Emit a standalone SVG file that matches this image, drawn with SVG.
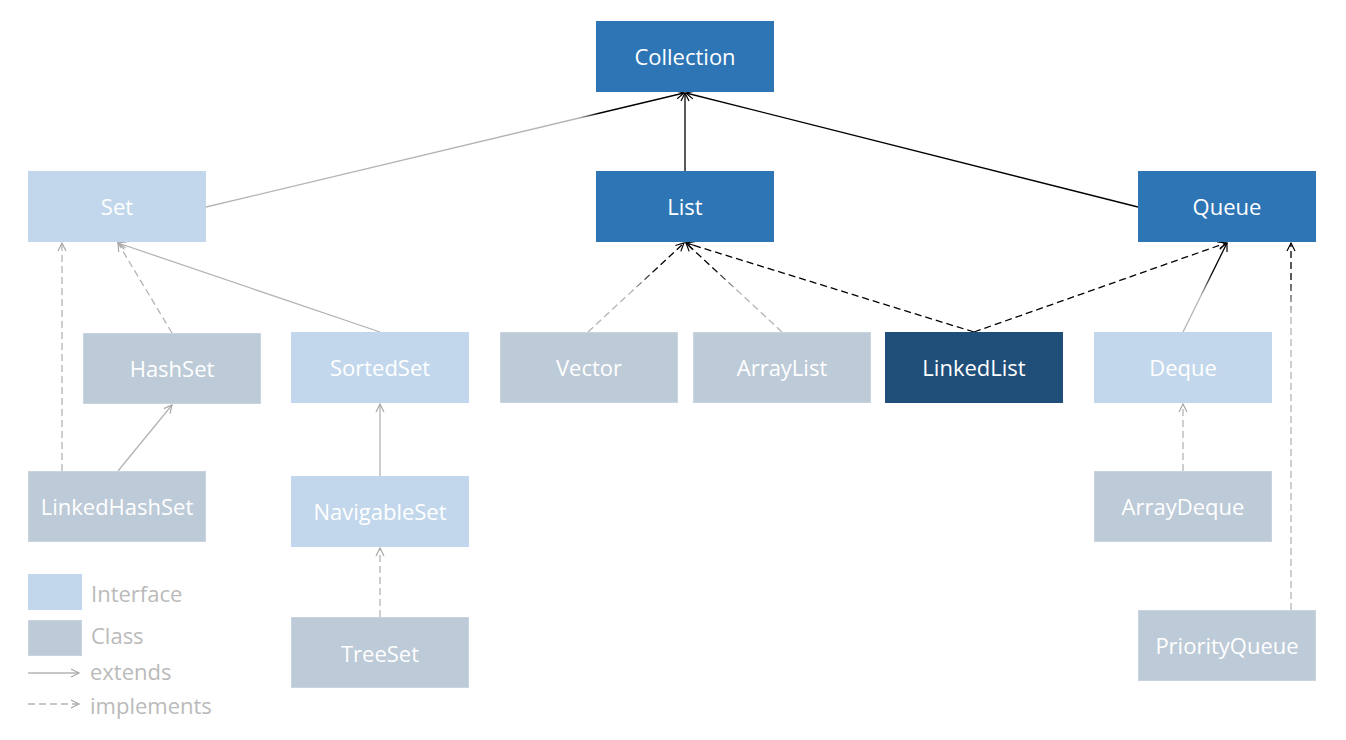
<svg xmlns="http://www.w3.org/2000/svg" width="1346" height="740" viewBox="0 0 1346 740">
<style>
.t{font-family:"Open Sans","Liberation Sans",sans-serif;font-size:22px;fill:#fff;text-anchor:middle;dominant-baseline:central}
.lg{font-family:"Open Sans","Liberation Sans",sans-serif;font-size:22px;fill:#BABABA}
.dk{fill:#2E75B6}
.if{fill:#C2D7EB}
.cl{fill:#BDCAD7;stroke:#C9D4DF;stroke-width:1}
.ll{fill:#1F4E79}
.c{fill:none;stroke-width:1.3}
.g{stroke:#B4B4B4}
.b{stroke:#000}
.d{stroke-dasharray:7,4}
</style>
<defs>
<marker id="ab" markerWidth="12" markerHeight="12" refX="9" refY="5" orient="auto" markerUnits="userSpaceOnUse"><path d="M1,1 L9,5 L1,9" fill="none" stroke="#000" stroke-width="1.2"/></marker>
<marker id="ag" markerWidth="12" markerHeight="12" refX="9" refY="5" orient="auto" markerUnits="userSpaceOnUse"><path d="M1,1 L9,5 L1,9" fill="none" stroke="#A8A8A8" stroke-width="1.2"/></marker>
<linearGradient id="g1" gradientUnits="userSpaceOnUse" x1="206" y1="207" x2="685" y2="92"><stop offset="0" stop-color="#B4B4B4"/><stop offset="0.78" stop-color="#B4B4B4"/><stop offset="0.82" stop-color="#000"/><stop offset="1" stop-color="#000"/></linearGradient>
<linearGradient id="g2" gradientUnits="userSpaceOnUse" x1="588" y1="332" x2="685" y2="242"><stop offset="0" stop-color="#B4B4B4"/><stop offset="0.45" stop-color="#B4B4B4"/><stop offset="0.7" stop-color="#000"/><stop offset="1" stop-color="#000"/></linearGradient>
<linearGradient id="g3" gradientUnits="userSpaceOnUse" x1="782" y1="332" x2="685" y2="242"><stop offset="0" stop-color="#B4B4B4"/><stop offset="0.45" stop-color="#B4B4B4"/><stop offset="0.7" stop-color="#000"/><stop offset="1" stop-color="#000"/></linearGradient>
<linearGradient id="g4" gradientUnits="userSpaceOnUse" x1="1183" y1="332" x2="1227" y2="242"><stop offset="0" stop-color="#B4B4B4"/><stop offset="0.4" stop-color="#B4B4B4"/><stop offset="0.65" stop-color="#000"/><stop offset="1" stop-color="#000"/></linearGradient>
<linearGradient id="g5" gradientUnits="userSpaceOnUse" x1="1291" y1="610" x2="1291" y2="242"><stop offset="0" stop-color="#B4B4B4"/><stop offset="0.8" stop-color="#B4B4B4"/><stop offset="0.9" stop-color="#000"/><stop offset="1" stop-color="#000"/></linearGradient>
</defs>

<g id="connectors">
<line class="c" stroke="url(#g1)" x1="206" y1="207" x2="684" y2="93" marker-end="url(#ab)"/>
<line class="c b" x1="685" y1="171" x2="685" y2="93" marker-end="url(#ab)"/>
<line class="c b" x1="1138" y1="207" x2="686" y2="93" marker-end="url(#ab)"/>
<line class="c g d" x1="172" y1="333" x2="118" y2="243" marker-end="url(#ag)"/>
<line class="c g d" x1="62" y1="471" x2="62" y2="243" marker-end="url(#ag)"/>
<line class="c g" x1="118" y1="471" x2="172" y2="405" marker-end="url(#ag)"/>
<line class="c g" x1="380" y1="332" x2="118" y2="243" marker-end="url(#ag)"/>
<line class="c g" x1="380" y1="476" x2="380" y2="404" marker-end="url(#ag)"/>
<line class="c g d" x1="380" y1="617" x2="380" y2="548" marker-end="url(#ag)"/>
<line class="c d" stroke="url(#g2)" x1="588" y1="332" x2="684" y2="243" marker-end="url(#ab)"/>
<line class="c d" stroke="url(#g3)" x1="782" y1="332" x2="686" y2="243" marker-end="url(#ab)"/>
<line class="c b d" x1="974" y1="332" x2="686" y2="243" marker-end="url(#ab)"/>
<line class="c b d" x1="974" y1="332" x2="1226" y2="243" marker-end="url(#ab)"/>
<line class="c" stroke="url(#g4)" x1="1183" y1="332" x2="1227" y2="243" marker-end="url(#ab)"/>
<line class="c g d" x1="1183" y1="471" x2="1183" y2="404" marker-end="url(#ag)"/>
<line class="c d" stroke="url(#g5)" x1="1291" y1="610" x2="1291" y2="243" marker-end="url(#ab)"/>
</g>

<g id="Collection"><rect class="dk" x="596" y="21" width="178" height="71"/><text class="t" x="685" y="55.5">Collection</text></g>
<g id="Set"><rect class="if" x="28" y="171" width="178" height="71"/><text class="t" x="117" y="205.5">Set</text></g>
<g id="List"><rect class="dk" x="596" y="171" width="178" height="71"/><text class="t" x="685" y="205.5">List</text></g>
<g id="Queue"><rect class="dk" x="1138" y="171" width="178" height="71"/><text class="t" x="1227" y="205.5">Queue</text></g>
<g id="HashSet"><rect class="cl" x="83.5" y="333.5" width="177" height="70"/><text class="t" x="172" y="367.5">HashSet</text></g>
<g id="SortedSet"><rect class="if" x="291" y="332" width="178" height="71"/><text class="t" x="380" y="366.5">SortedSet</text></g>
<g id="Vector"><rect class="cl" x="500.5" y="332.5" width="177" height="70"/><text class="t" x="589" y="366.5">Vector</text></g>
<g id="ArrayList"><rect class="cl" x="693.5" y="332.5" width="177" height="70"/><text class="t" x="782" y="366.5">ArrayList</text></g>
<g id="LinkedList"><rect class="ll" x="885" y="332" width="178" height="71"/><text class="t" x="974" y="366.5">LinkedList</text></g>
<g id="Deque"><rect class="if" x="1094" y="332" width="178" height="71"/><text class="t" x="1183" y="366.5">Deque</text></g>
<g id="LinkedHashSet"><rect class="cl" x="28.5" y="471.5" width="177" height="70"/><text class="t" x="117" y="505.5">LinkedHashSet</text></g>
<g id="NavigableSet"><rect class="if" x="291" y="476" width="178" height="71"/><text class="t" x="380" y="510.5">NavigableSet</text></g>
<g id="ArrayDeque"><rect class="cl" x="1094.5" y="471.5" width="177" height="70"/><text class="t" x="1183" y="505.5">ArrayDeque</text></g>
<g id="TreeSet"><rect class="cl" x="291.5" y="617.5" width="177" height="70"/><text class="t" x="380" y="652.5">TreeSet</text></g>
<g id="PriorityQueue"><rect class="cl" x="1138.5" y="610.5" width="177" height="70"/><text class="t" x="1227" y="644.5">PriorityQueue</text></g>

<g id="legend">
<rect class="if" x="28" y="574" width="54" height="36"/>
<text class="lg" x="91" y="602">Interface</text>
<rect class="cl" x="28.5" y="620.5" width="53" height="35"/>
<text class="lg" x="91" y="644">Class</text>
<line class="c g" x1="28" y1="673" x2="79" y2="673" marker-end="url(#ag)"/>
<text class="lg" x="90" y="680">extends</text>
<line class="c g d" x1="28" y1="704" x2="79" y2="704" marker-end="url(#ag)"/>
<text class="lg" x="90" y="714">implements</text>
</g>
</svg>
